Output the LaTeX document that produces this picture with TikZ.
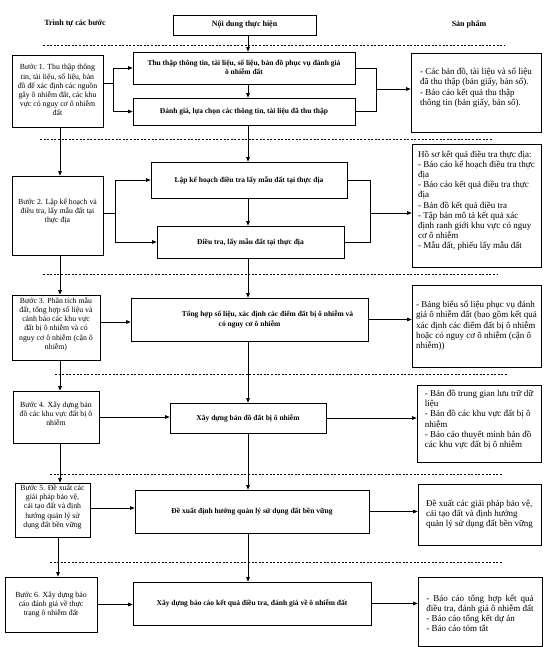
\documentclass[tikz,border=0pt]{standalone}
\usepackage{fontspec}
\setmainfont{Liberation Serif}
\usetikzlibrary{arrows.meta}
\newcommand{\mycenter}[1]{\begin{tabular}{@{}c@{}}#1\end{tabular}}
\newcommand{\myleft}[1]{\begin{tabular}{@{}l@{}}#1\end{tabular}}
\newlength{\pwid}
\begin{document}
\begin{tikzpicture}[x=1pt,y=-1pt]
\tikzset{
 base/.style={draw, line width=0.75pt, inner sep=1pt},
 stepbox/.style={base, font=\fontsize{7.8}{9.2}\selectfont},
 mainbox/.style={base, font=\bfseries\fontsize{7.5}{9.5}\selectfont},
 prodbox/.style={base, font=\fontsize{9}{10.2}\selectfont},
 headtxt/.style={font=\bfseries\fontsize{8}{9.5}\selectfont},
 arr/.style={line width=0.7pt, -{Triangle[length=4.5pt,width=3.6pt]}},
 ln/.style={line width=0.7pt},
 sep/.style={line width=0.6pt, dash pattern=on 2pt off 1.6pt},
}
\fill[white] (0,0) rectangle (559,647);
\useasboundingbox (0,0) rectangle (559,647);
\coordinate (mc) at (248,0);
\coordinate (lc) at (60,0);
\coordinate (lc2) at (58,0);

% header
\node[headtxt] (hl) at (75,24) {Trình tự các bước};
\node[mainbox, font=\bfseries\fontsize{8}{9.5}\selectfont, minimum width=143pt, minimum height=20pt] (hdr) at (244.5,25) {Nội dung thực hiện};
\node[headtxt] (hr) at (469,24) {Sản phẩm};
\draw[sep] (43,45) -- (505,45);

% row 1
\node[stepbox, minimum width=91pt, minimum height=72pt] (s1) at (57.5,91)
 {\mycenter{Bước 1. Thu thập thông\\tin, tài liệu, số liệu, bản\\đồ để xác định các nguồn\\gây ô nhiễm đất, các khu\\vực có nguy cơ ô nhiễm\\đất}};
\node[mainbox, minimum width=222pt, minimum height=32pt] (a1) at (244,68)
 {\mycenter{Thu thập thông tin, tài liệu, số liệu, bản đồ phục vụ đánh giá\\ô nhiễm đất}};
\node[mainbox, minimum width=222pt, minimum height=27pt] (b1) at (244,111.5)
 {Đánh giá, lựa chọn các thông tin, tài liệu đã thu thập};
\node[prodbox, minimum width=130pt, minimum height=79pt] (p1) at (476,92.5)
 {\myleft{- Các bản đồ, tài liệu và số liệu\\đã thu thập (bản giấy, bản số).\\- Báo cáo kết quả thu thập\\thông tin (bản giấy, bản số).\\[9pt]}};
\draw[arr] (hdr.south -| mc) -- (a1.north -| mc);
\draw[arr] (a1.south -| mc) -- (b1.north -| mc);
\coordinate (j1) at (113,83);
\draw[ln] (s1.east |- j1) -- (j1);
\draw[arr] (j1) |- (a1.west);
\draw[arr] (j1) |- (b1.west);
\coordinate (k1) at (376,89);
\draw[ln] (a1.east) -| (k1);
\draw[ln] (b1.east) -| (k1);
\draw[arr] (k1) -- (k1 -| p1.west);
\draw[sep] (40,139) -- (493,139);

% row 2
\node[stepbox, minimum width=91pt, minimum height=79pt] (s2) at (57.5,215.5)
 {\mycenter{Bước 2. Lập kế hoạch và\\điều tra, lấy mẫu đất tại\\thực địa\\[8pt]}};
\node[mainbox, minimum width=196pt, minimum height=36pt] (a2) at (249,180)
 {Lập kế hoạch điều tra lấy mẫu đất tại thực địa};
\node[mainbox, minimum width=187pt, minimum height=32pt] (b2) at (250.5,242)
 {Điều tra, lấy mẫu đất tại thực địa};
\node[prodbox, minimum width=129pt, minimum height=123pt] (p2) at (476.5,205.5)
 {\myleft{Hồ sơ kết quả điều tra thực địa:\\- Báo cáo kế hoạch điều tra thực\\địa\\- Báo cáo kết quả điều tra thực\\địa\\- Bản đồ kết quả điều tra\\- Tập bản mô tả kết quả xác\\định ranh giới khu vực có nguy\\cơ ô nhiễm\\- Mẫu đất, phiếu lấy mẫu đất\\[9pt]}};
\draw[arr] (s1.south -| lc) -- (s2.north -| lc);
\draw[arr] (b1.south -| mc) -- (a2.north -| mc);
\draw[arr] (a2.south -| mc) -- (b2.north -| mc);
\coordinate (j2) at (115,213);
\draw[ln] (s2.east |- j2) -- (j2);
\draw[arr] (j2) |- (a2.west);
\draw[arr] (j2) |- (b2.west);
\coordinate (k2) at (370,213);
\draw[ln] (a2.east) -| (k2);
\draw[ln] (b2.east) -| (k2);
\draw[arr] (k2) -- (k2 -| p2.west);
\draw[sep] (43,274) -- (497,274);

% row 3
\node[stepbox, minimum width=88pt, minimum height=65pt] (s3) at (56,327.5)
 {\mycenter{Bước 3. Phân tích mẫu\\đất, tổng hợp số liệu và\\cảnh báo các khu vực\\đất bị ô nhiễm và có\\nguy cơ ô nhiễm (cận ô\\nhiễm)\\[6pt]}};
\node[mainbox, minimum width=237pt, minimum height=43pt] (c3) at (249.5,319.5)
 {\mycenter{\hspace*{36pt}Tổng hợp số liệu, xác định các điểm đất bị ô nhiễm và\\có nguy cơ ô nhiễm}};
\node[prodbox, minimum width=129pt, minimum height=82pt] (p3) at (476.5,326)
 {\myleft{- Bảng biểu số liệu phục vụ đánh\\giá ô nhiễm đất (bao gồm kết quả\\xác định các điểm đất bị ô nhiễm\\hoặc có nguy cơ ô nhiễm (cận ô\\nhiễm))}};
\coordinate (r3) at (0,322);
\draw[arr] (s2.south -| lc) -- (s3.north -| lc);
\draw[arr] (b2.south -| mc) -- (c3.north -| mc);
\draw[arr] (s3.east |- r3) -- (c3.west |- r3);
\draw[arr] (c3.east) -- (c3.east -| p3.west);
\draw[sep] (55,374) -- (508,374);

% row 4
\node[stepbox, minimum width=86pt, minimum height=52pt] (s4) at (56,417)
 {\mycenter{Bước 4. Xây dựng bản\\đồ các khu vực đất bị ô\\nhiễm\\[5pt]}};
\node[mainbox, minimum width=156pt, minimum height=30pt] (c4) at (248,418)
 {Xây dựng bản đồ đất bị ô nhiễm};
\node[prodbox, minimum width=124pt, minimum height=77pt] (p4) at (479,423.5)
 {\myleft{- Bản đồ trung gian lưu trữ dữ\\liệu\\- Bản đồ các khu vực đất bị ô\\nhiễm\\- Báo cáo thuyết minh bản đồ\\các khu vực đất bị ô nhiễm\\[7pt]}};
\draw[arr] (s3.south -| lc) -- (s4.north -| lc);
\draw[arr] (c3.south -| mc) -- (c4.north -| mc);
\draw[arr] (s4.east) -- (s4.east -| c4.west);
\draw[arr] (c4.east) -- (c4.east -| p4.west);
\draw[sep] (50,474) -- (503,474);

% row 5
\node[stepbox, minimum width=75pt, minimum height=54pt] (s5) at (52.5,510)
 {\mycenter{Bước 5. Đề xuất các\\giải pháp bảo vệ,\\cải tạo đất và định\\hướng quản lý sử\\dụng đất bền vững\\[6pt]}};
\node[mainbox, minimum width=234pt, minimum height=43pt] (c5) at (252,511.5)
 {Đề xuất định hướng quản lý sử dụng đất bền vững};
\node[prodbox, minimum width=123pt, minimum height=61pt] (p5) at (479.5,514.5)
 {\myleft{Đề xuất các giải pháp bảo vệ,\\cải tạo đất và định hướng\\quản lý sử dụng đất bền vững}};
\coordinate (r5) at (0,508);
\draw[arr] (s4.south -| lc) -- (s5.north -| lc);
\draw[arr] (c4.south -| mc) -- (c5.north -| mc);
\draw[arr] (s5.east |- r5) -- (c5.west |- r5);
\draw[arr] (c5.east) -- (c5.east -| p5.west);
\draw[sep] (50,562) -- (503,562);

% row 6
\node[stepbox, minimum width=92pt, minimum height=55pt] (s6) at (51,604.5)
 {\mycenter{Bước 6. Xây dựng báo\\cáo đánh giá về thực\\trạng ô nhiễm đất}};
\node[mainbox, minimum width=238pt, minimum height=43pt] (c6) at (252,603.5)
 {Xây dựng báo cáo kết quả điều tra, đánh giá về ô nhiễm đất};
\node[prodbox, minimum width=124pt, minimum height=69pt] (p6) at (480,611.5)
 {\myleft{\rule{0pt}{13pt}\settowidth{\pwid}{điều tra, đánh giá ô nhiễm đất}\makebox[\pwid][s]{- Báo cáo tổng hợp kết quả}\\điều tra, đánh giá ô nhiễm đất\\- Báo cáo tổng kết dự án\\- Báo cáo tóm tắt}};
\draw[arr] (s5.south -| lc2) -- (s6.north -| lc2);
\draw[arr] (c5.south -| mc) -- (c6.north -| mc);
\draw[arr] (s6.east) -- (s6.east -| c6.west);
\draw[arr] (c6.east) -- (c6.east -| p6.west);
\end{tikzpicture}
\end{document}
